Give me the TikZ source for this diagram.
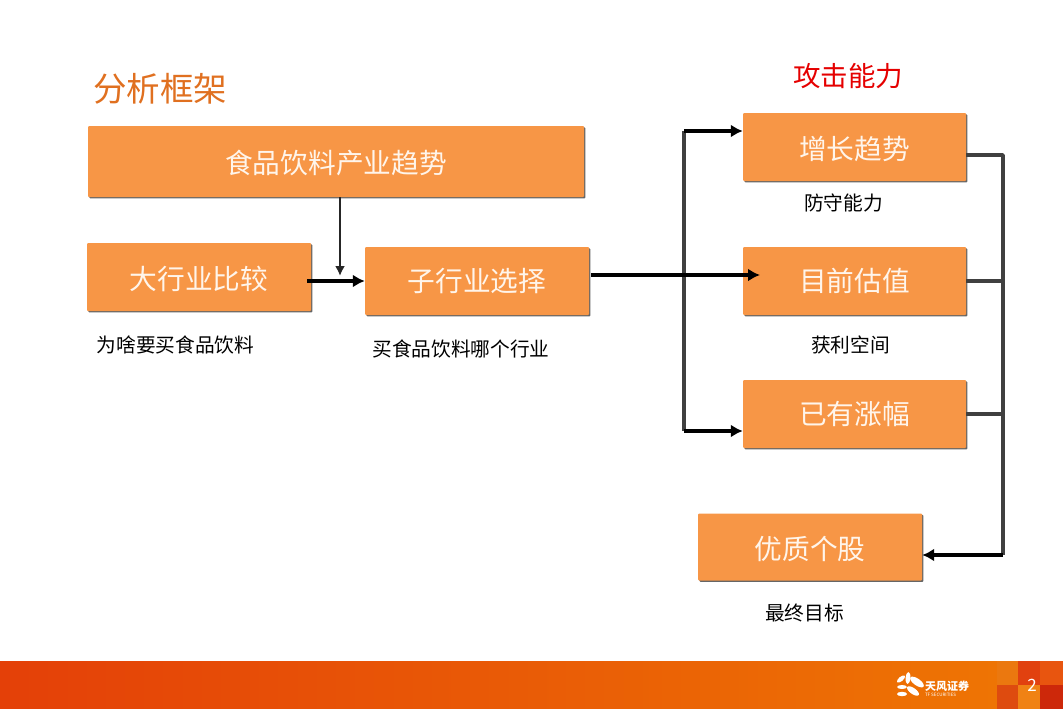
\documentclass[tikz,border=0pt]{standalone}
\usepackage{fontspec}
\setmainfont{Noto Sans CJK SC}
\usetikzlibrary{positioning, arrows.meta, shadows}
\definecolor{boxorange}{RGB}{247,150,70}
\definecolor{titleorange}{RGB}{224,112,32}
\definecolor{barleft}{RGB}{228,64,8}
\definecolor{barright}{RGB}{238,116,4}
\newcommand{\fsize}[1]{\fontsize{#1}{#1}\selectfont}
\tikzset{
block/.style={shape=rectangle, rounded corners=1pt, fill=boxorange, inner sep=0, text=white!92!orange, font=\fsize{27.7}, text height=24.4pt, text depth=0pt,
  drop shadow={shadow xshift=1.4pt, shadow yshift=-1.4pt, fill=black!60, opacity=1}},
lifted/.style={text height=21.4pt},
note/.style={inner sep=0, font=\fsize{19.7}},
flow/.style={draw=black, line width=3.2pt, -{Latex[length=12pt, width=13pt]}},
bus/.style={draw=black!75, line width=3.4pt, line join=round},
feed/.style={draw=black!85, line width=2.2pt, -{Latex[length=10pt, width=10pt]}}}

\begin{document}
\begin{tikzpicture}[x=1pt, y=-1pt]
\useasboundingbox (0,0) rectangle (1063,709);
% footer
\shade [left color=barleft, right color=barright] (0,661) rectangle (997,709);
\foreach \r/\g/\b [count=\j, evaluate={\tx=int(997+21.8*(\j-1));}] in {235/120/15, 225/65/15, 232/85/15}{
      \definecolor{tilec}{RGB}{\r,\g,\b}
      \fill [tilec] (\tx,661) rectangle (\tx+22.5,685);
}
\foreach \r/\g/\b [count=\j, evaluate={\tx=int(997+21.8*(\j-1));}] in {222/75/15, 240/130/20, 205/40/10}{
      \definecolor{tilec}{RGB}{\r,\g,\b}
      \fill [tilec] (\tx,685) rectangle (\tx+22.5,709);
}
\foreach \ang/\px/\py/\la/\lb in {85/908/678/6/2.4, -35/917/682/8/3.4, 40/901/679/5/2.2, 0/902/687/5/2, 0/902/694/5/2.2, -35/913/691/7/3}{
      \fill [white, rotate around={\ang:(\px,\py)}] (\px,\py) ellipse [x radius=\la, y radius=\lb];
}
\node [inner sep=0, text=white, font=\bfseries\fsize{11}] (logo) at (947,686) {天风证券};
\node [inner sep=0, text=white, font=\fsize{4.5}, below=1.5pt of logo.south west, anchor=north west] (logotag) {TF SECURITIES};
\node [inner sep=0, text=white, font=\fsize{17}] (page) at (1032,685) {2};

% headings
\node [inner sep=0, text=titleorange, font=\fsize{33.5}] (title) at (160,89) {分析框架};
\node [inner sep=0, text=red!90!black, font=\fsize{27.5}] (attack) at (848,76) {攻击能力};

% boxes
\node [block, minimum width=496pt, minimum height=71pt] at (336,161.5) (trend) {食品饮料产业趋势};
\node [block, minimum width=224pt, minimum height=68pt] at (199,277) (sector) {大行业比较};
\node [block, lifted, minimum width=224pt, minimum height=68pt] at (477,281) (sub) {子行业选择};
\node [block, minimum width=223pt, minimum height=68pt] at (854.5,147) (grow) {增长趋势};
\node [block, lifted, minimum width=223pt, minimum height=68pt] at (854.5,281) (value) {目前估值};
\node [block, lifted, minimum width=223pt, minimum height=68pt] at (854.5,414) (rise) {已有涨幅};
\node [block, minimum width=224pt, minimum height=67pt] at (810,547) (stock) {优质个股};

% notes
\node [note] at (175.5,345) (why) {为啥要买食品饮料};
\node [note] at (461,349) (which) {买食品饮料哪个行业};
\node [note] at (843.5,203) (defend) {防守能力};
\node [note] at (850.5,345) (profit) {获利空间};
\node [note] at (804.5,613) (goal) {最终目标};

% junctions
\coordinate (feed-in) at (340,276);
\coordinate (sub-out) at (591,275);
\coordinate (value-in) at (760,275);
\coordinate (sector-out) at (307,281);
\coordinate (bus-top) at (684,131);
\coordinate (bus-low) at (684,431);
\coordinate (rail-top) at (1003,155);
\coordinate (rail-low) at (1003,555);

\draw [feed] (trend.south -| feed-in) -- (feed-in);
\draw [flow] (sector-out) -- (sub.west |- sector-out);
\draw [bus] (bus-top) -- (bus-low);
\draw [flow] (bus-top) -- (grow.west |- bus-top);
\draw [flow] (bus-low) -- (rise.west |- bus-low);
\draw [flow] (sub-out) -- (value-in);
\draw [bus] (grow.east |- rail-top) -- (rail-top) -- (rail-low);
\foreach \jname in {value, rise}{
      \draw [bus] (\jname.east) -- (\jname.east -| rail-top);
}
\draw [flow] (rail-low) -- (stock.east |- rail-low);
\end{tikzpicture}
\end{document}
